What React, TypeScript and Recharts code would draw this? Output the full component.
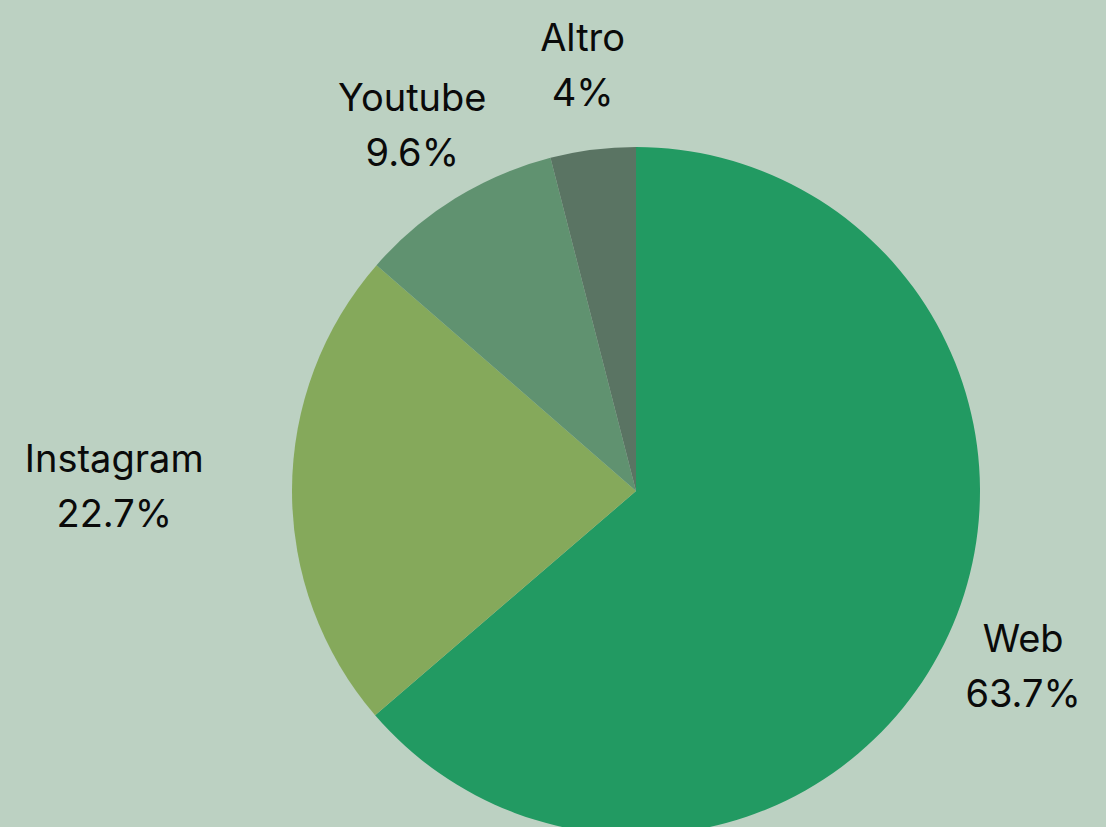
import React from "react";
import { PieChart, Pie, Cell } from "recharts";

const categories = ["Web", "Instagram", "Youtube", "Altro"];
const shares = [63.7, 22.7, 9.6, 4];
const colors = ["#229A62", "#85A95B", "#609270", "#5A7463"];

const data = categories.map((name, i) => ({ name, value: shares[i] }));

const FONT = "Inter, 'DejaVu Sans', sans-serif";
const FONT_SIZE = 38;
const RAD = Math.PI / 180;

const renderLabel = (props: any) => {
  const { cx, cy, midAngle, outerRadius, name, value } = props;
  const c = Math.cos(-midAngle * RAD);
  const s = Math.sin(-midAngle * RAD);
  let r = outerRadius + 82;
  if (Math.abs(c) > 0.95) {
    r += (name.length * FONT_SIZE * 0.56) / 2;
  }
  const x = cx + r * c;
  const y = cy + r * s;
  return (
    <text
      x={x}
      y={y}
      textAnchor="middle"
      fill="#0a0a0a"
      fontFamily={FONT}
      fontSize={FONT_SIZE}
    >
      <tspan x={x} dy={-17}>{name}</tspan>
      <tspan x={x} dy={55}>{`${value}%`}</tspan>
    </text>
  );
};

export default function App() {
  return (
    <div
      style={{
        position: "fixed",
        left: 0,
        top: 0,
        width: 1106,
        height: 827,
        background: "#BCD1C2",
        overflow: "hidden",
      }}
    >
      <PieChart width={1106} height={827} margin={{ top: 0, right: 0, bottom: 0, left: 0 }}>
        <Pie
          data={data}
          dataKey="value"
          nameKey="name"
          cx={636}
          cy={491}
          outerRadius={344}
          startAngle={90}
          endAngle={-270}
          stroke="none"
          labelLine={false}
          label={renderLabel}
          isAnimationActive={false}
        >
          {data.map((d, i) => (
            <Cell key={d.name} fill={colors[i]} />
          ))}
        </Pie>
      </PieChart>
    </div>
  );
}
